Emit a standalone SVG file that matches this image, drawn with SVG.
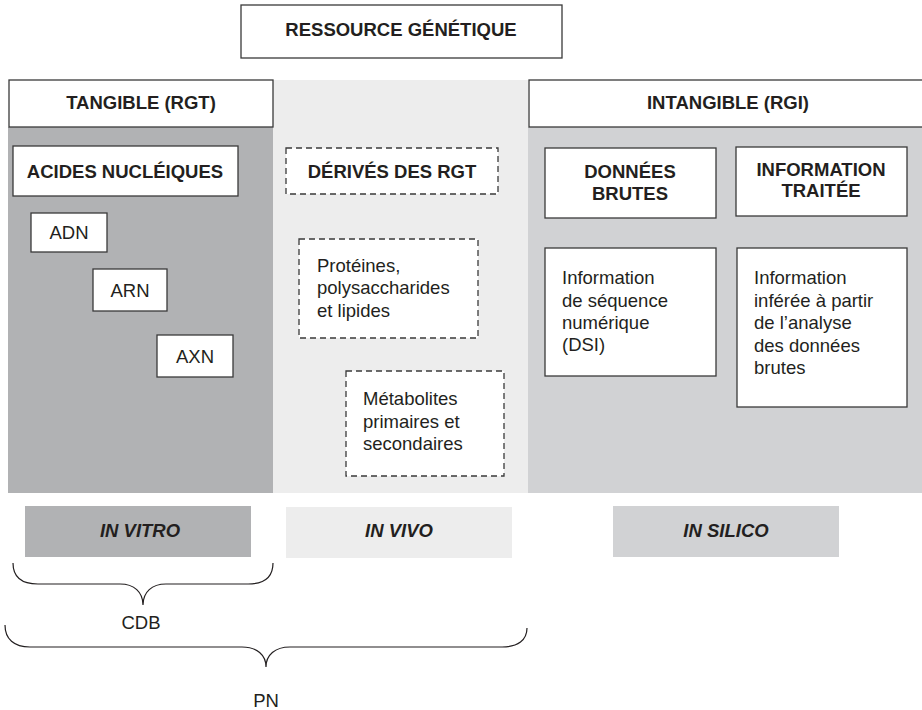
<svg xmlns="http://www.w3.org/2000/svg" width="922" height="710" viewBox="0 0 922 710">
  <style>
    text { font-family: "Liberation Sans", Arial, sans-serif; fill: #231f20; font-size: 18.5px; }
    .h { font-weight: bold; text-anchor: middle; }
    .c { text-anchor: middle; }
    .it { font-weight: bold; font-style: italic; text-anchor: middle; }
    .box { fill: #ffffff; stroke: #3a3a3a; stroke-width: 1.3; }
    .dash { fill: #ffffff; stroke: #3a3a3a; stroke-width: 1.3; stroke-dasharray: 6 4; }
    .brace { fill: none; stroke: #231f20; stroke-width: 1.2; }
  </style>

  <!-- column backgrounds -->
  <rect x="8" y="127" width="265" height="366" fill="#b1b2b4"/>
  <rect x="273" y="80" width="255" height="413" fill="#ededed"/>
  <rect x="528" y="127" width="394" height="366" fill="#d1d2d4"/>

  <g id="ressource">
    <rect class="box" x="241" y="5" width="321" height="53"/>
    <text class="h" x="401" y="36">RESSOURCE GÉNÉTIQUE</text>
  </g>

  <g id="tangible">
    <rect class="box" x="9" y="80" width="264" height="47"/>
    <text class="h" x="141" y="109">TANGIBLE (RGT)</text>
  </g>

  <g id="intangible">
    <rect class="box" x="529" y="80" width="400" height="47"/>
    <text class="h" x="728" y="109">INTANGIBLE (RGI)</text>
  </g>

  <g id="acides">
    <rect class="box" x="13" y="146" width="225" height="50"/>
    <text class="h" x="125" y="178">ACIDES NUCLÉIQUES</text>
  </g>

  <g id="adn">
    <rect class="box" x="31" y="213" width="76" height="39"/>
    <text class="c" x="69" y="239">ADN</text>
  </g>
  <g id="arn">
    <rect class="box" x="93" y="269" width="74" height="42"/>
    <text class="c" x="130" y="297">ARN</text>
  </g>
  <g id="axn">
    <rect class="box" x="157" y="335" width="76" height="42"/>
    <text class="c" x="195" y="363">AXN</text>
  </g>

  <g id="derives">
    <rect class="dash" x="286" y="148" width="212" height="46"/>
    <text class="h" x="392" y="178">DÉRIVÉS DES RGT</text>
  </g>

  <g id="proteines">
    <rect class="dash" x="299" y="239" width="179" height="99"/>
    <text x="317" y="272">Protéines,</text>
    <text x="317" y="294">polysaccharides</text>
    <text x="317" y="317">et lipides</text>
  </g>

  <g id="metabolites">
    <rect class="dash" x="346" y="371" width="158" height="105"/>
    <text x="363" y="405">Métabolites</text>
    <text x="363" y="428">primaires et</text>
    <text x="363" y="450">secondaires</text>
  </g>

  <g id="donnees">
    <rect class="box" x="545" y="148" width="171" height="70"/>
    <text class="h" x="630" y="178">DONNÉES</text>
    <text class="h" x="630" y="200">BRUTES</text>
  </g>

  <g id="information">
    <rect class="box" x="736" y="147" width="171" height="69"/>
    <text class="h" x="821" y="176">INFORMATION</text>
    <text class="h" x="821" y="197">TRAITÉE</text>
  </g>

  <g id="dsi">
    <rect class="box" x="545" y="248" width="171" height="128"/>
    <text x="562" y="284">Information</text>
    <text x="562" y="307">de séquence</text>
    <text x="562" y="329">numérique</text>
    <text x="562" y="351">(DSI)</text>
  </g>

  <g id="inferee">
    <rect class="box" x="737" y="248" width="170" height="159"/>
    <text x="754" y="284">Information</text>
    <text x="754" y="307">inférée à partir</text>
    <text x="754" y="329">de l’analyse</text>
    <text x="754" y="352">des données</text>
    <text x="754" y="374">brutes</text>
  </g>

  <g id="in-vitro">
    <rect x="25" y="506" width="226" height="51" fill="#b1b2b4"/>
    <text class="it" x="140" y="537">IN VITRO</text>
  </g>
  <g id="in-vivo">
    <rect x="286" y="507" width="226" height="51" fill="#ededed"/>
    <text class="it" x="399" y="537">IN VIVO</text>
  </g>
  <g id="in-silico">
    <rect x="613" y="506" width="226" height="51" fill="#d1d2d4"/>
    <text class="it" x="726" y="537">IN SILICO</text>
  </g>

  <!-- braces -->
  <g id="connectors">
    <path class="brace" d="M13,563 C13,577 22,584 38,584 L120,584 C134,584 143,592 143,605 C143,592 152,584 166,584 L248,584 C264,584 273,577 273,563"/>
    <path class="brace" d="M5,625 C5,639 14,647 30,647 L242,647 C257,647 266,655 266,667 C266,655 275,647 290,647 L502,647 C518,647 527,640 527,628"/>
  </g>

  <g id="cdb">
    <text class="c" x="141" y="629">CDB</text>
  </g>
  <g id="pn">
    <text class="c" x="266" y="707">PN</text>
  </g>
</svg>
